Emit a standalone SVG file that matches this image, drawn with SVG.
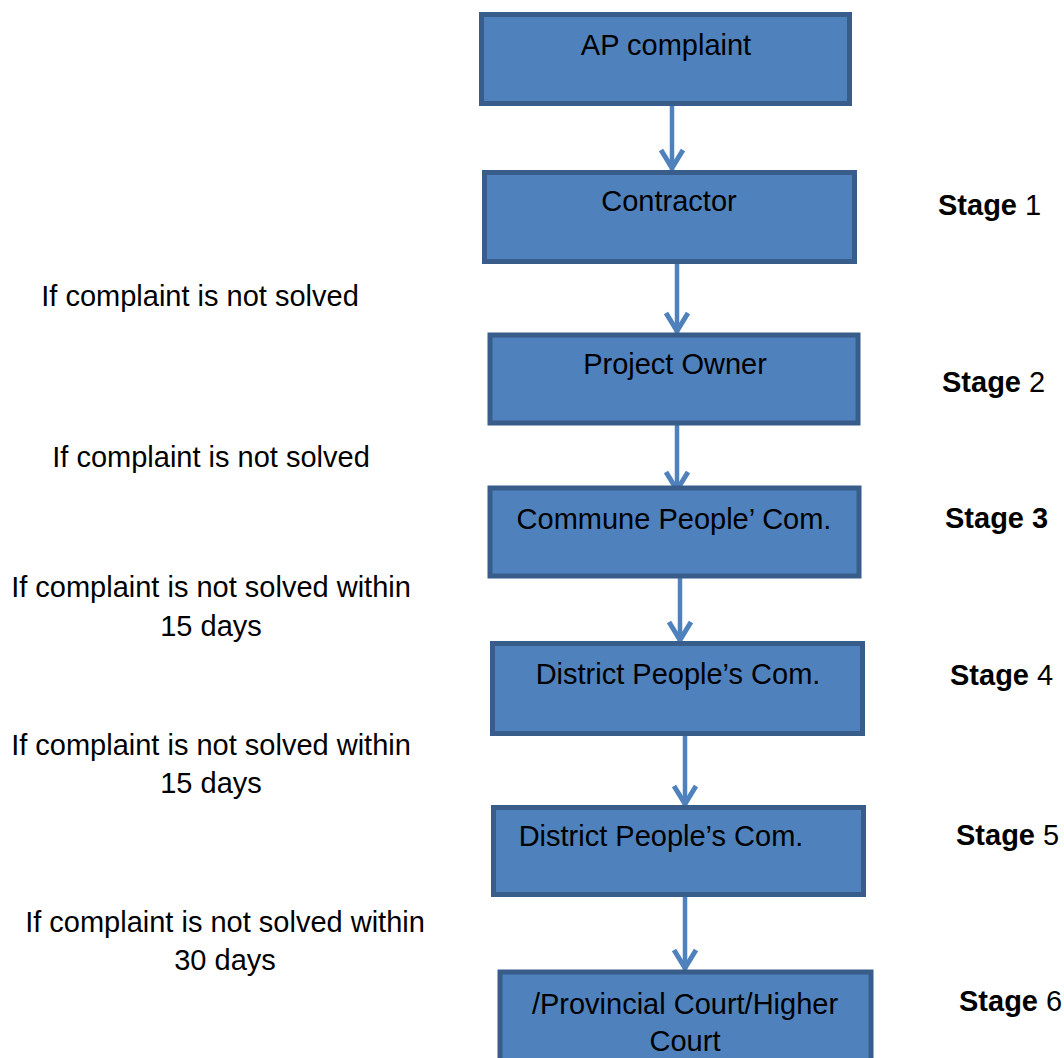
<svg xmlns="http://www.w3.org/2000/svg" width="1064" height="1058" viewBox="0 0 1064 1058">
<style>
.box{fill:#4F81BD;stroke:#385D8A;stroke-width:5}
.t{font-family:"Liberation Sans",Arial,sans-serif;font-size:29px;fill:#000}
.c{stroke:#4F81BD;stroke-width:4.5;fill:none}
</style>
<defs>
<marker id="ah" markerUnits="userSpaceOnUse" markerWidth="30" markerHeight="30" viewBox="-25 -15 30 30" refX="0" refY="0" orient="auto" overflow="visible">
<path d="M-20,-11 L-2,0 L-20,11" fill="none" stroke="#4F81BD" stroke-width="5"/>
</marker>
</defs>
<rect width="1064" height="1058" fill="#fff"/>
<g id="connectors">
<path class="c" d="M672,105 V170" marker-end="url(#ah)"/>
<path class="c" d="M677,263 V333" marker-end="url(#ah)"/>
<path class="c" d="M677,423 V492" marker-end="url(#ah)"/>
<path class="c" d="M680,577 V642" marker-end="url(#ah)"/>
<path class="c" d="M685,735 V806" marker-end="url(#ah)"/>
<path class="c" d="M685,895 V970" marker-end="url(#ah)"/>
</g>
<g id="n1"><rect class="box" x="481.5" y="14.5" width="368" height="89"/><text class="t" x="666" y="55" text-anchor="middle">AP complaint</text></g>
<g id="n2"><rect class="box" x="484.5" y="172.5" width="370" height="89"/><text class="t" x="669" y="211" text-anchor="middle">Contractor</text></g>
<g id="n3"><rect class="box" x="490" y="335" width="368" height="88"/><text class="t" x="675" y="374" text-anchor="middle">Project Owner</text></g>
<g id="n4"><rect class="box" x="490" y="488" width="369" height="88"/><text class="t" x="674" y="529" text-anchor="middle">Commune People’ Com.</text></g>
<g id="n5"><rect class="box" x="492.5" y="643.5" width="370" height="90"/><text class="t" x="678" y="684" text-anchor="middle">District People’s Com.</text></g>
<g id="n6"><rect class="box" x="493.5" y="807.5" width="370" height="87"/><text class="t" x="661" y="846" text-anchor="middle">District People’s Com.</text></g>
<g id="n7"><rect class="box" x="500" y="972" width="371" height="110"/><text class="t" x="685" y="1014" text-anchor="middle">/Provincial Court/Higher</text><text class="t" x="685" y="1051" text-anchor="middle">Court</text></g>
<g id="stages">
<text class="t" x="938" y="215"><tspan font-weight="bold">Stage</tspan> 1</text>
<text class="t" x="942" y="392"><tspan font-weight="bold">Stage</tspan> 2</text>
<text class="t" x="945" y="528" font-weight="bold">Stage 3</text>
<text class="t" x="950" y="685"><tspan font-weight="bold">Stage</tspan> 4</text>
<text class="t" x="956" y="845"><tspan font-weight="bold">Stage</tspan> 5</text>
<text class="t" x="959" y="1011"><tspan font-weight="bold">Stage</tspan> 6</text>
</g>
<g id="conditions">
<text class="t" x="200" y="306" text-anchor="middle">If complaint is not solved</text>
<text class="t" x="211" y="467" text-anchor="middle">If complaint is not solved</text>
<text class="t" x="211" y="597" text-anchor="middle">If complaint is not solved within</text>
<text class="t" x="211" y="636" text-anchor="middle">15 days</text>
<text class="t" x="211" y="755" text-anchor="middle">If complaint is not solved within</text>
<text class="t" x="211" y="793" text-anchor="middle">15 days</text>
<text class="t" x="225" y="932" text-anchor="middle">If complaint is not solved within</text>
<text class="t" x="225" y="970" text-anchor="middle">30 days</text>
</g>
</svg>
